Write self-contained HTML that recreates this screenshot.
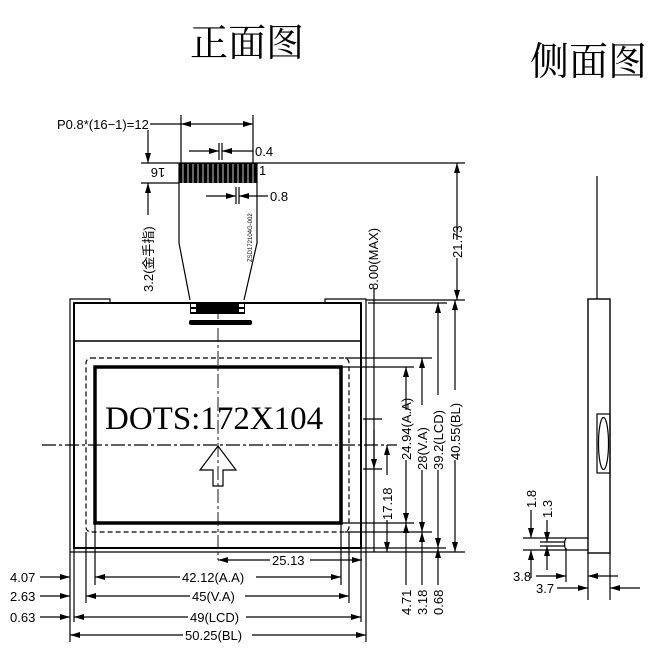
<!DOCTYPE html>
<html><head><meta charset="utf-8"><style>
html,body{margin:0;padding:0;background:#fff;}
svg{display:block;}
text{font-family:"Liberation Sans","Noto Sans CJK SC",sans-serif;fill:#000;}
.s{font-family:"Liberation Serif","Noto Serif CJK SC",serif;}
</style></head><body>
<svg width="657" height="655" viewBox="0 0 657 655" xmlns="http://www.w3.org/2000/svg">
<defs>
<marker id="a" viewBox="0 0 10 6" refX="10" refY="3" markerWidth="10" markerHeight="6" orient="auto-start-reverse" markerUnits="userSpaceOnUse"><path d="M0,0L10,3L0,6z" fill="#000"/></marker>
</defs>
<text x="190" y="56" class="s" font-size="38">正面图</text>
<text x="530" y="75" class="s" font-size="39">侧面图</text>

<g stroke="#000" fill="none" stroke-width="1.2">
<path d="M70,552V299H110V303"/>
<path d="M366,552V299H325V303"/>
<line x1="70" y1="552" x2="366" y2="552"/>
<rect x="74" y="303" width="287" height="245" stroke-width="2"/>
<line x1="74" y1="341" x2="361" y2="341" stroke-width="1.5"/>
<rect x="86" y="358" width="263" height="174" rx="5" stroke-dasharray="5,3"/>
<rect x="95" y="367" width="246" height="156" stroke-width="3.5"/>
<line x1="218" y1="305" x2="218" y2="560" stroke-dasharray="14,3,3,3" stroke-width="0.9"/>
<line x1="42" y1="445" x2="397" y2="445" stroke-dasharray="14,3,3,3" stroke-width="1.3"/>
<path d="M218,446L200,470H213V486H223V470H236Z" stroke-width="1.2"/>
<path d="M179,163V243L190,300M257,163V243L244,300"/>
<rect x="179" y="163" width="78" height="20" fill="#000" stroke="none"/>
<g stroke="#fff" stroke-width="0.8">
<path d="M183,164V183M188,164V183M193,164V183M198,164V183M203,164V183M208,164V183M213,164V183M218,164V183M223,164V183M228,164V183M233,164V183M238,164V183M243,164V183M248,164V183M253,164V183"/>
</g>
<rect x="190" y="302" width="55" height="12" fill="#000" stroke="none"/>
<rect x="191" y="304" width="5" height="3" fill="#fff" stroke="none"/>
<rect x="191" y="309" width="5" height="3" fill="#fff" stroke="none"/>
<rect x="239" y="304" width="5" height="3" fill="#fff" stroke="none"/>
<rect x="239" y="309" width="5" height="3" fill="#fff" stroke="none"/>
<rect x="189" y="320" width="63" height="5" rx="2" fill="#000" stroke="none"/>
<line x1="181" y1="115" x2="181" y2="163"/>
<line x1="253" y1="115" x2="253" y2="163"/>
<line x1="150" y1="124" x2="181" y2="124"/>
<line x1="181" y1="124" x2="253" y2="124" marker-start="url(#a)" marker-end="url(#a)"/>
<line x1="219" y1="143" x2="219" y2="160"/><line x1="222" y1="143" x2="222" y2="160"/>
<line x1="189" y1="151" x2="219" y2="151" marker-end="url(#a)"/>
<line x1="253" y1="151" x2="222" y2="151" marker-end="url(#a)"/>
<line x1="236" y1="187" x2="236" y2="204"/><line x1="239" y1="187" x2="239" y2="204"/>
<line x1="206" y1="196" x2="236" y2="196" marker-end="url(#a)"/>
<line x1="268" y1="196" x2="239" y2="196" marker-end="url(#a)"/>
<line x1="141" y1="163" x2="465" y2="163"/>
<line x1="141" y1="183" x2="179" y2="183"/>
<line x1="148" y1="130" x2="148" y2="163" marker-end="url(#a)"/>
<line x1="148" y1="215" x2="148" y2="183" marker-end="url(#a)"/>
<line x1="374" y1="288" x2="374" y2="552"/>
<line x1="368" y1="303" x2="447" y2="303"/>
<line x1="366" y1="300" x2="465" y2="300"/>
<line x1="457" y1="240" x2="457" y2="163" marker-end="url(#a)"/>
<line x1="457" y1="258" x2="457" y2="300" marker-end="url(#a)"/>
<line x1="345" y1="358" x2="432" y2="358"/>
<line x1="341" y1="367" x2="414" y2="367"/>
<line x1="341" y1="523" x2="414" y2="523"/>
<line x1="345" y1="532" x2="432" y2="532"/>
<line x1="361" y1="548" x2="446" y2="548"/>
<line x1="366" y1="552" x2="465" y2="552"/>
<line x1="406" y1="410" x2="406" y2="367" marker-end="url(#a)"/>
<line x1="406" y1="460" x2="406" y2="523" marker-end="url(#a)"/>
<line x1="422" y1="405" x2="422" y2="358" marker-end="url(#a)"/>
<line x1="422" y1="470" x2="422" y2="532" marker-end="url(#a)"/>
<line x1="438" y1="395" x2="438" y2="303" marker-end="url(#a)"/>
<line x1="438" y1="470" x2="438" y2="548" marker-end="url(#a)"/>
<line x1="455" y1="390" x2="455" y2="300" marker-end="url(#a)"/>
<line x1="455" y1="460" x2="455" y2="552" marker-end="url(#a)"/>
<line x1="406" y1="585" x2="406" y2="523" marker-end="url(#a)"/>
<line x1="422" y1="585" x2="422" y2="532" marker-end="url(#a)"/>
<line x1="438" y1="585" x2="438" y2="548" marker-end="url(#a)"/>
<line x1="363" y1="419" x2="382" y2="419"/>
<line x1="363" y1="469" x2="382" y2="469"/>
<line x1="366" y1="419" x2="366" y2="469"/>
<line x1="374" y1="430" x2="374" y2="469" marker-end="url(#a)"/>
<line x1="387" y1="475" x2="387" y2="445" marker-end="url(#a)"/>
<line x1="387" y1="520" x2="387" y2="552" marker-end="url(#a)"/>
<line x1="70" y1="552" x2="70" y2="642"/><line x1="366" y1="552" x2="366" y2="642"/>
<line x1="74" y1="548" x2="74" y2="622"/><line x1="361" y1="548" x2="361" y2="622"/>
<line x1="86" y1="532" x2="86" y2="603"/><line x1="349" y1="532" x2="349" y2="603"/>
<line x1="95" y1="523" x2="95" y2="585"/><line x1="341" y1="523" x2="341" y2="585"/>
<line x1="218" y1="560" x2="270" y2="560" marker-start="url(#a)"/>
<line x1="310" y1="560" x2="362" y2="560" marker-end="url(#a)"/>
<line x1="95" y1="577" x2="180" y2="577" marker-start="url(#a)"/>
<line x1="256" y1="577" x2="341" y2="577" marker-end="url(#a)"/>
<line x1="86" y1="596" x2="190" y2="596" marker-start="url(#a)"/>
<line x1="245" y1="596" x2="349" y2="596" marker-end="url(#a)"/>
<line x1="74" y1="617" x2="188" y2="617" marker-start="url(#a)"/>
<line x1="246" y1="617" x2="361" y2="617" marker-end="url(#a)"/>
<line x1="70" y1="635" x2="183" y2="635" marker-start="url(#a)"/>
<line x1="252" y1="635" x2="366" y2="635" marker-end="url(#a)"/>
<line x1="40" y1="577" x2="70" y2="577" marker-end="url(#a)"/>
<line x1="40" y1="596" x2="70" y2="596" marker-end="url(#a)"/>
<line x1="40" y1="617" x2="70" y2="617" marker-end="url(#a)"/>
<line x1="597" y1="176" x2="597" y2="299"/>
<rect x="588" y="299" width="22" height="254" stroke-width="1.4"/>
<rect x="597" y="414" width="13" height="59"/>
<ellipse cx="603.5" cy="443.5" rx="5" ry="26"/>
<path d="M523,538H588M523,550H588M540,542H565M540,546H565"/>
<path d="M566,538Q563,544 566,550"/>
<line x1="566" y1="548" x2="566" y2="582"/>
<line x1="588" y1="553" x2="588" y2="600"/>
<line x1="610" y1="553" x2="610" y2="600"/>
<line x1="531" y1="510" x2="531" y2="538" marker-end="url(#a)"/>
<line x1="531" y1="578" x2="531" y2="550" marker-end="url(#a)"/>
<line x1="547" y1="520" x2="547" y2="542" marker-end="url(#a)"/>
<line x1="547" y1="570" x2="547" y2="546" marker-end="url(#a)"/>
<line x1="536" y1="576" x2="566" y2="576" marker-end="url(#a)"/>
<line x1="618" y1="576" x2="588" y2="576" marker-end="url(#a)"/>
<line x1="557" y1="588" x2="588" y2="588" marker-end="url(#a)"/>
<line x1="640" y1="588" x2="610" y2="588" marker-end="url(#a)"/>
</g>

<text x="105" y="429" class="s" font-size="33">DOTS:172X104</text>
<g font-size="13">
<text x="57" y="129">P0.8*(16−1)=12</text>
<text x="255" y="156">0.4</text>
<text x="270" y="201">0.8</text>
<text transform="translate(158,173) rotate(180)" text-anchor="middle" y="5">16</text>
<text x="259" y="175">1</text>
<text x="272" y="565">25.13</text>
<text x="182" y="582">42.12(A.A)</text>
<text x="192" y="601">45(V.A)</text>
<text x="190" y="622">49(LCD)</text>
<text x="185" y="640">50.25(BL)</text>
<text x="10" y="582">4.07</text>
<text x="10" y="601">2.63</text>
<text x="10" y="622">0.63</text>
<text x="513" y="581">3.8</text>
<text x="536" y="593">3.7</text>
</g>
<g font-size="13">
<text transform="translate(153,292) rotate(-90)">3.2(金手指)</text>
<text transform="translate(378,290) rotate(-90)">8.00(MAX)</text>
<text transform="translate(462,258) rotate(-90)">21.73</text>
<text transform="translate(411,460) rotate(-90)">24.94(A.A)</text>
<text transform="translate(427,470) rotate(-90)">28(V.A)</text>
<text transform="translate(443,470) rotate(-90)">39.2(LCD)</text>
<text transform="translate(460,460) rotate(-90)">40.55(BL)</text>
<text transform="translate(392,520) rotate(-90)">17.18</text>
<text transform="translate(411,615) rotate(-90)">4.71</text>
<text transform="translate(427,615) rotate(-90)">3.18</text>
<text transform="translate(443,615) rotate(-90)">0.68</text>
<text transform="translate(536,508) rotate(-90)">1.8</text>
<text transform="translate(552,518) rotate(-90)">1.3</text>
</g>
<text transform="translate(252,262) rotate(-90)" font-size="6">ZSD172104G-002</text>
</svg>
</body></html>
